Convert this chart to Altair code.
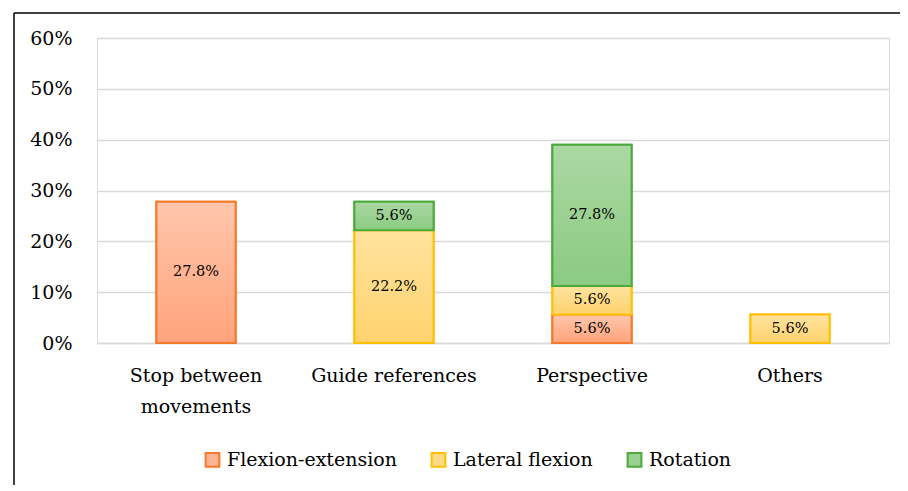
import altair as alt
import pandas as pd

categories = ["Stop between|movements", "Guide references", "Perspective", "Others"]
series_names = ["Flexion-extension", "Lateral flexion", "Rotation"]
flexion_extension = [27.8, 0.0, 5.6, 0.0]
lateral_flexion = [0.0, 22.2, 5.6, 5.6]
rotation = [0.0, 5.6, 27.8, 0.0]
y_ticks = [0, 10, 20, 30, 40, 50, 60]

stroke_colors = ["#F4792B", "#FFC000", "#4AAA3A"]
grad_top = ["#FFC6AC", "#FFE39E", "#ABD8A3"]
grad_bottom = ["#FFA37B", "#FFD26E", "#8BCB82"]
mid_colors = ["#FFB391", "#FFDA86", "#9AD192"]

FONT = "DejaVu Serif"

rows = []
values_by_series = [flexion_extension, lateral_flexion, rotation]
for ci, cat in enumerate(categories):
    cum = 0.0
    for si, s in enumerate(series_names):
        v = values_by_series[si][ci]
        if v > 0:
            rows.append({"category": cat, "series": s, "order": si, "value": v,
                         "start": cum, "end": cum + v, "mid": cum + v / 2,
                         "label": f"{v:.1f}%"})
        cum += v
df = pd.DataFrame(rows)

x_enc = alt.X("category:N", sort=categories, title=None,
              scale=alt.Scale(paddingInner=0.6, paddingOuter=0.3),
              axis=alt.Axis(labelExpr="split(datum.label, '|')", labelAngle=0,
                            labelFontSize=19, labelFont=FONT, labelColor="#000000",
                            labelPadding=23, labelLineHeight=31, ticks=False,
                            labelLimit=300,
                            domainColor="#d9d9d9", domainWidth=1.5))
y_scale = alt.Scale(domain=[0, 60], nice=False)
y_axis = alt.Axis(values=y_ticks, labelExpr="datum.value + '%'", title=None,
                  labelFontSize=19, labelFont=FONT, labelColor="#000000",
                  labelPadding=25, ticks=False, domain=False,
                  gridColor="#d9d9d9", gridWidth=1.3)

base = alt.Chart(df).mark_bar(strokeWidth=2).encode(
    x=x_enc,
    y=alt.Y("start:Q", scale=y_scale, axis=y_axis),
    y2="end:Q",
    fill=alt.Fill("series:N", sort=series_names,
                  scale=alt.Scale(domain=series_names, range=mid_colors),
                  legend=alt.Legend(title=None, orient="none", direction="horizontal",
                                    legendX=106, legendY=412, padding=0,
                                    symbolType="square", symbolSize=190,
                                    symbolStrokeWidth=2, labelFontSize=19,
                                    labelFont=FONT, labelColor="#000000",
                                    labelOffset=5, columnPadding=30, labelLimit=400)),
    stroke=alt.Stroke("series:N", sort=series_names,
                      scale=alt.Scale(domain=series_names, range=stroke_colors)),
)

layers = [base]
for i, s in enumerate(series_names):
    grad = alt.Gradient(gradient="linear",
                        stops=[alt.GradientStop(color=grad_top[i], offset=0),
                               alt.GradientStop(color=grad_bottom[i], offset=1)],
                        x1=0, x2=0, y1=0, y2=1)
    layers.append(
        alt.Chart(df).transform_filter(alt.datum.series == s)
        .mark_bar(fill=grad, stroke=stroke_colors[i], strokeWidth=2)
        .encode(x=alt.X("category:N", sort=categories), y="start:Q", y2="end:Q")
    )

text = alt.Chart(df).mark_text(font=FONT, fontSize=14.5, color="#000000").encode(
    x=alt.X("category:N", sort=categories),
    y="mid:Q",
    text="label:N",
)
layers.append(text)

frame_v = alt.Chart(alt.Data(values=[{}])).mark_rule(color="#000000", strokeWidth=1.5).encode(
    x=alt.value(-83), y=alt.value(-25), y2=alt.value(480))
frame_h = alt.Chart(alt.Data(values=[{}])).mark_rule(color="#000000", strokeWidth=1.5).encode(
    x=alt.value(-83), x2=alt.value(900), y=alt.value(-25))
layers += [frame_v, frame_h]

chart = alt.layer(*layers).properties(
    width=792, height=305,
    autosize=alt.AutoSizeParams(type="none"),
    padding={"left": 89, "top": 30, "right": 11, "bottom": 142},
).configure_view(stroke="#d9d9d9", strokeWidth=1.3).configure(background="#ffffff")

chart.save("out.html", embed_options={"renderer": "svg", "actions": False})
